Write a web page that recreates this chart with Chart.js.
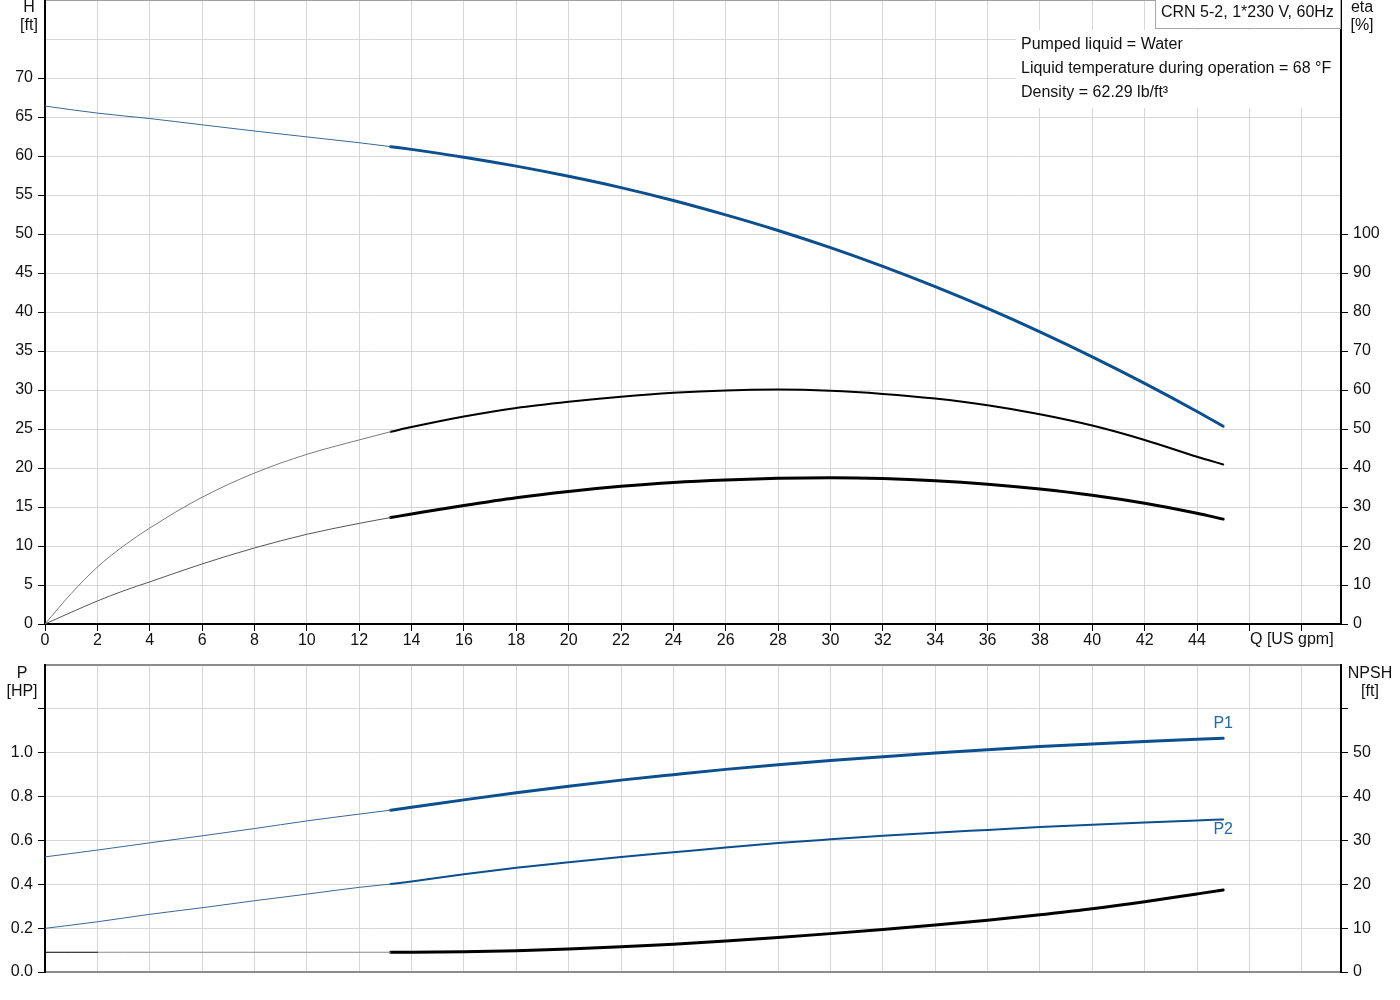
<!DOCTYPE html>
<html><head><meta charset="utf-8">
<script src="https://cdn.jsdelivr.net/npm/chart.js@4.4.1/dist/chart.umd.min.js"></script>
<style>
html,body{margin:0;padding:0;background:#fff;}
body{width:1400px;height:1000px;position:relative;overflow:hidden;font-family:"Liberation Sans",Arial,sans-serif;font-size:16px;color:#111;}
canvas{position:absolute;left:0;}
#c1{top:0;}
#c2{top:640px;}
.t{position:absolute;line-height:18px;white-space:nowrap;}
.c{text-align:center;}
</style></head><body>
<canvas id="c1" width="1400" height="660"></canvas>
<canvas id="c2" width="1400" height="360"></canvas>

<div class="t c" style="left:9px;top:-2px;width:40px;">H<br>[ft]</div>
<div class="t c" style="left:1342px;top:-2px;width:40px;">eta<br>[%]</div>
<div class="t c" style="left:2px;top:664px;width:40px;">P<br>[HP]</div>
<div class="t c" style="left:1345px;top:664px;width:50px;">NPSH<br>[ft]</div>
<div class="t" style="left:1250px;top:630px;">Q [US gpm]</div>

<div style="position:absolute;left:1016px;top:30px;width:324px;height:78px;background:#fff;"></div>
<div class="t" style="left:1021px;top:35px;">Pumped liquid = Water</div>
<div class="t" style="left:1021px;top:59px;">Liquid temperature during operation = 68 °F</div>
<div class="t" style="left:1021px;top:83px;">Density = 62.29 lb/ft³</div>
<div class="t" style="left:1155px;top:-1px;width:186px;height:30px;box-sizing:border-box;border:1px solid #a8a8a8;background:#fff;padding:3px 0 0 5px;">CRN 5-2, 1*230 V, 60Hz</div>

<script>
// ---- tick values and labels ----
const qTicks = [0,2,4,6,8,10,12,14,16,18,20,22,24,26,28,30,32,34,36,38,40,42,44,46,48];
const qTickLabels = ['0','2','4','6','8','10','12','14','16','18','20','22','24','26','28','30','32','34','36','38','40','42','44','',''];
const hTicks = [0,5,10,15,20,25,30,35,40,45,50,55,60,65,70,75,80];
const hTickLabels = ['0','5','10','15','20','25','30','35','40','45','50','55','60','65','70','',''];
const etaTicks = [0,10,20,30,40,50,60,70,80,90,100,110,120,130,140,150,160];
const etaTickLabels = ['0','10','20','30','40','50','60','70','80','90','100','','','','','',''];
const pTicks = [0,0.2,0.4,0.6,0.8,1.0,1.2,1.4];
const pTickLabels = ['0.0','0.2','0.4','0.6','0.8','1.0','',''];
const npshTicks = [0,10,20,30,40,50,60,70];
const npshTickLabels = ['0','10','20','30','40','50','',''];

// ---- flow values (US gpm) ----
const qThin = [0,2,4,6,8,10,12,13.2];
const qThinEta = [0,1,2,3,4,6,8,10,12,13.2];
const qThick = [13.2,14,16,18,20,22,24,26,28,30,32,34,36,38,40,42,44,45];

// ---- head H [ft] ----
const headThin = [66.4,65.5,64.8,64.0,63.2,62.45,61.7,61.2];
const headThick = [61.2,60.85,59.85,58.7,57.4,55.95,54.3,52.45,50.45,48.25,45.85,43.25,40.45,37.45,34.25,30.85,27.25,25.35];

// ---- efficiencies eta [%] ----
const etaPumpThin = [0,7.8,14.6,20.0,24.6,32.5,38.7,43.5,47.2,49.3];
const etaPumpThick = [49.3,50.5,53.2,55.4,57.0,58.3,59.3,59.9,60.1,59.8,59.0,57.8,56.1,53.8,50.9,47.2,42.9,40.9];
const etaTotalThin = [0,3.0,5.9,8.5,10.8,15.4,19.5,23.0,25.8,27.3];
const etaTotalThick = [27.3,28.2,30.4,32.4,34.0,35.3,36.3,36.95,37.35,37.5,37.3,36.75,35.85,34.6,33.0,30.95,28.4,26.9];

// ---- power P [HP] ----
const p1Thin = [0.525,0.556,0.589,0.621,0.654,0.689,0.72,0.738];
const p1Thick = [0.738,0.751,0.785,0.817,0.847,0.875,0.900,0.924,0.945,0.964,0.982,0.999,1.014,1.028,1.040,1.051,1.061,1.066];
const p2Thin = [0.199,0.229,0.263,0.293,0.325,0.355,0.386,0.401];
const p2Thick = [0.401,0.413,0.446,0.475,0.50,0.524,0.546,0.568,0.588,0.605,0.621,0.635,0.648,0.661,0.672,0.682,0.691,0.696];
const powerLabels = ['P1','P2'];

// ---- NPSH [ft] ----
const qNpshStart = [0,2];
const npshStart = [4.5,4.5];
const qNpshThin = [2,4,6,8,10,12,13.2];
const npshThin = [4.5,4.5,4.5,4.5,4.5,4.5,4.5];
const npshThick = [4.5,4.5,4.6,4.85,5.25,5.75,6.35,7.05,7.85,8.75,9.7,10.7,11.8,13.05,14.4,16.0,17.8,18.7];

// ---- helpers ----
const BLUE = '#0b4f8f';
const GRID = '#d6d6d6';
function pts(xs, ys){ return xs.map((x,i)=>({x:x, y:ys[i]})); }
function setTicks(values){ return s => { s.ticks = values.map(v => ({value:v})); }; }
function fixW(w){ return s => { s.width = w; s.paddingTop = 0; s.paddingBottom = 0; s.paddingLeft = 0; s.paddingRight = 0; }; }
function fixH(h){ return s => { s.height = h; s.paddingTop = 0; s.paddingBottom = 0; s.paddingLeft = 0; s.paddingRight = 0; }; }
function line(data, color, width, axis){
  return {data:data, borderColor:color, borderWidth:width, pointRadius:0, fill:false,
    cubicInterpolationMode:'monotone', borderCapStyle:'round', yAxisID:axis||'y'};
}

Chart.defaults.font.family = '"Liberation Sans", Arial, sans-serif';
Chart.defaults.font.size = 16;
Chart.defaults.color = '#111';

const common = {
  responsive:false, animation:false, devicePixelRatio:1,
  plugins:{legend:{display:false}, tooltip:{enabled:false}},
  events:[]
};

// ---------- top chart ----------
new Chart(document.getElementById('c1'), {
  type:'line',
  data:{datasets:[
    line(pts(qThin, headThin), '#3a6796', 1),
    line(pts(qThick, headThick), BLUE, 3),
    line(pts(qThinEta, etaPumpThin), '#7a7a7a', 1, 'y2'),
    line(pts(qThick, etaPumpThick), '#000', 2, 'y2'),
    line(pts(qThinEta, etaTotalThin), '#555', 1, 'y2'),
    line(pts(qThick, etaTotalThick), '#000', 3, 'y2')
  ]},
  options:Object.assign({}, common, {
    layout:{padding:{top:0,left:0,right:0,bottom:0}},
    scales:{
      x:{type:'linear', min:0, max:49.5, position:'bottom',
        afterBuildTicks:setTicks(qTicks), afterFit:fixH(36),
        ticks:{autoSkip:false, maxRotation:0, padding:0, callback:(v,i)=>qTickLabels[i]},
        grid:{color:GRID, lineWidth:1, tickLength:7, tickColor:'#000'},
        border:{color:'#000', width:2}},
      y:{type:'linear', min:0, max:80, position:'left',
        afterBuildTicks:setTicks(hTicks), afterFit:fixW(45),
        ticks:{autoSkip:false, padding:5, callback:(v,i)=>hTickLabels[i]},
        grid:{color:c=>(c.tick && c.tick.value===80)?'#a0a0a0':GRID,
              lineWidth:c=>(c.tick && c.tick.value===80)?2:1,
              tickLength:7, tickColor:c=>(c.tick && c.tick.value<=70)?'#000':'rgba(0,0,0,0)'},
        border:{color:'#000', width:2}},
      y2:{type:'linear', min:0, max:160, position:'right',
        afterBuildTicks:setTicks(etaTicks), afterFit:fixW(59),
        ticks:{autoSkip:false, padding:5, callback:(v,i)=>etaTickLabels[i]},
        grid:{drawOnChartArea:false, tickLength:7, tickColor:c=>(c.tick && c.tick.value<=100)?'#000':'rgba(0,0,0,0)'},
        border:{color:'#000', width:2}}
    }
  })
});

// ---------- bottom chart ----------
const labelPlugin = {
  id:'powerLabels',
  afterDatasetsDraw(chart){
    const ctx = chart.ctx;
    const m1 = chart.getDatasetMeta(1), m2 = chart.getDatasetMeta(3);
    const e1 = m1.data[m1.data.length-1], e2 = m2.data[m2.data.length-1];
    ctx.save();
    ctx.fillStyle = '#2468a8';
    ctx.font = '16px "Liberation Sans", Arial, sans-serif';
    ctx.textAlign = 'center';
    ctx.textBaseline = 'middle';
    ctx.fillText(powerLabels[0], e1.x, e1.y - 15);
    ctx.fillText(powerLabels[1], e2.x, e2.y + 10);
    ctx.restore();
  }
};

new Chart(document.getElementById('c2'), {
  type:'line',
  data:{datasets:[
    line(pts(qThin, p1Thin), '#3a6796', 1),
    line(pts(qThick, p1Thick), BLUE, 3),
    line(pts(qThin, p2Thin), '#3a6796', 1),
    line(pts(qThick, p2Thick), BLUE, 2),
    line(pts(qNpshStart, npshStart), '#000', 1, 'y2'),
    line(pts(qNpshThin, npshThin), '#8a8a8a', 1, 'y2'),
    line(pts(qThick, npshThick), '#000', 3, 'y2')
  ]},
  plugins:[labelPlugin],
  options:Object.assign({}, common, {
    layout:{padding:{top:25,left:0,right:0,bottom:0}},
    scales:{
      x:{type:'linear', min:0, max:49.5, position:'bottom',
        afterBuildTicks:setTicks(qTicks), afterFit:fixH(28),
        ticks:{display:false},
        grid:{color:GRID, lineWidth:1, drawTicks:false},
        border:{color:'#8c8c8c', width:2}},
      y:{type:'linear', min:0, max:1.4, position:'left',
        afterBuildTicks:setTicks(pTicks), afterFit:fixW(45),
        ticks:{autoSkip:false, padding:5, callback:(v,i)=>pTickLabels[i]},
        grid:{color:c=>(c.tick && c.tick.value>1.3)?'#8c8c8c':GRID,
              lineWidth:c=>(c.tick && c.tick.value>1.3)?2:1,
              tickLength:7, tickColor:c=>(c.tick && c.tick.value<1.3)?'#000':'rgba(0,0,0,0)'},
        border:{color:'#000', width:2}},
      y2:{type:'linear', min:0, max:70, position:'right',
        afterBuildTicks:setTicks(npshTicks), afterFit:fixW(59),
        ticks:{autoSkip:false, padding:5, callback:(v,i)=>npshTickLabels[i]},
        grid:{drawOnChartArea:false, tickLength:7, tickColor:c=>(c.tick && c.tick.value<=60)?'#000':'rgba(0,0,0,0)'},
        border:{color:'#000', width:2}}
    }
  })
});
</script>
</body></html>
